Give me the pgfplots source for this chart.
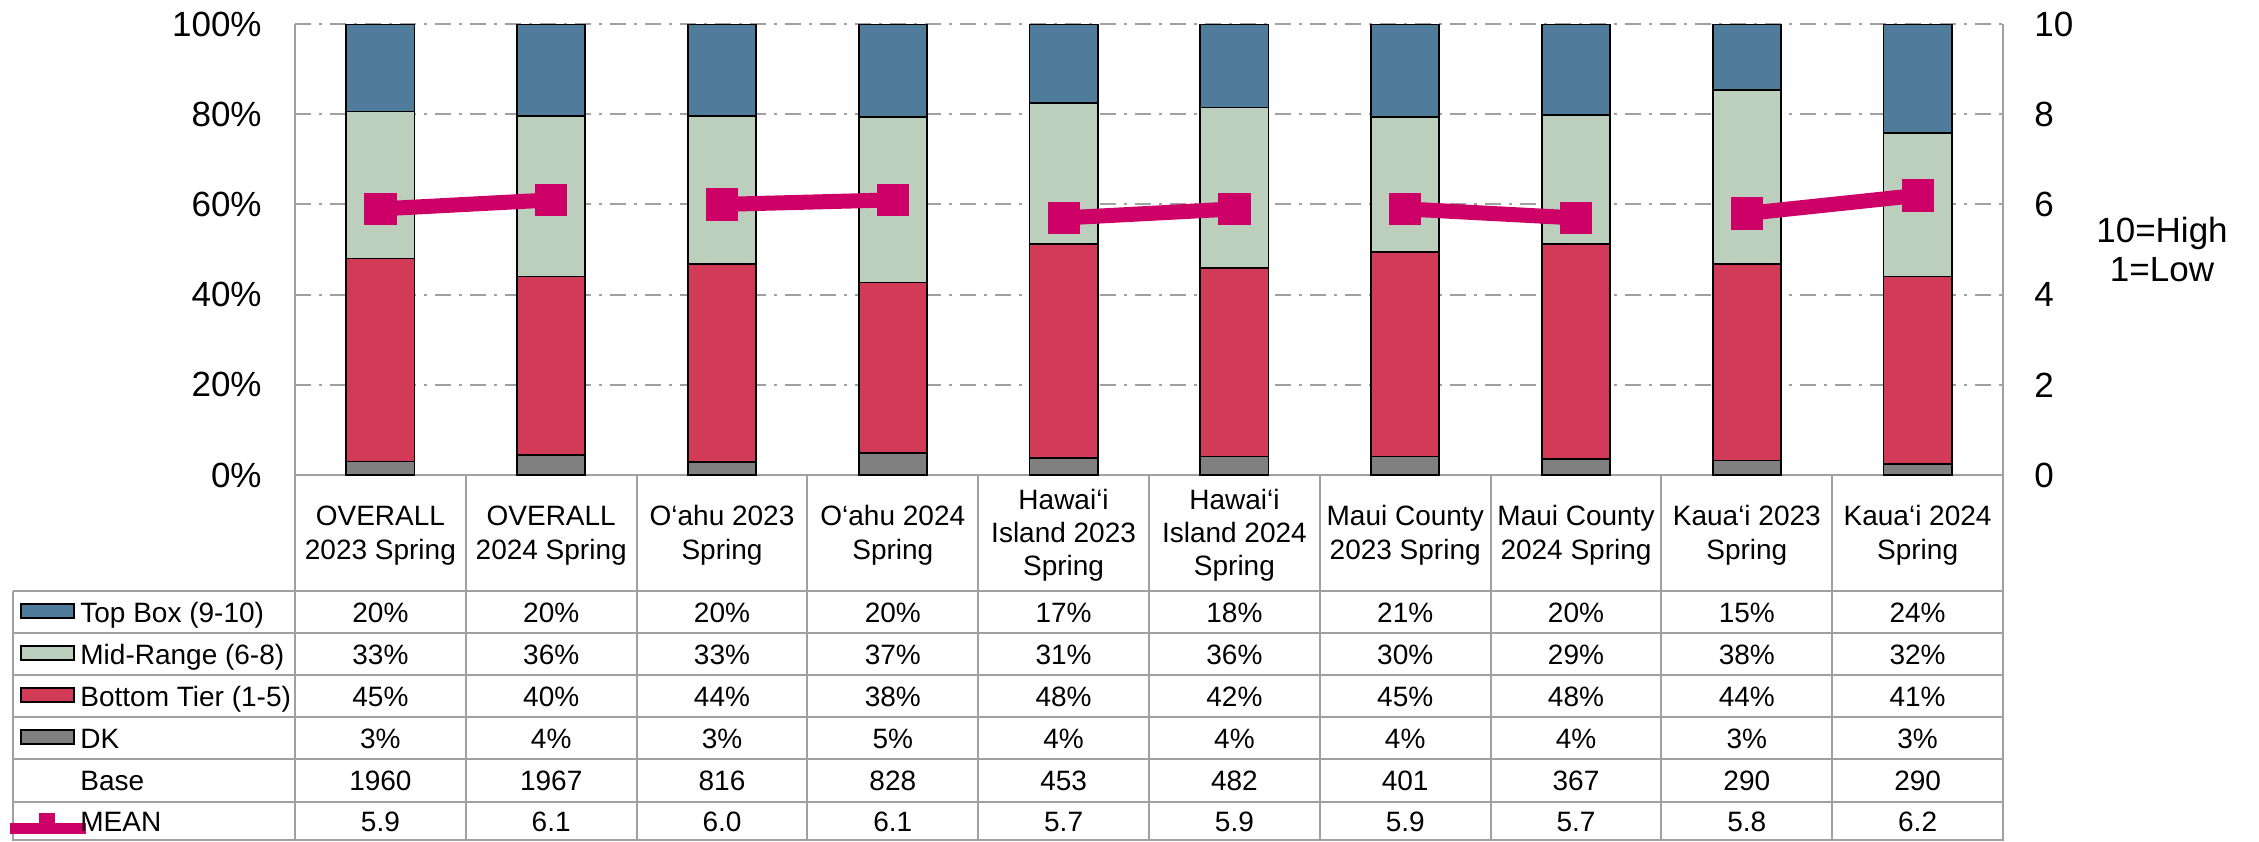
\documentclass[border=0pt]{standalone}
\usepackage{pgfplots}
\pgfplotsset{compat=1.18}
\usepackage{pgfplotstable}
\usepackage{fontspec}
\setmainfont{Liberation Sans}
\definecolor{topbox}{HTML}{4E7C9A}
\definecolor{midr}{HTML}{BCCFBC}
\definecolor{bott}{HTML}{D13B57}
\definecolor{dk}{HTML}{808080}
\definecolor{meanc}{HTML}{CC0066}
\definecolor{gridc}{HTML}{A0A0A0}

\pgfplotstableread{
x dk bot mid top
0 3.0 45.0 32.6 19.4
1 4.4 39.6 35.6 20.4
2 2.9 43.9 32.8 20.4
3 4.8 37.9 36.6 20.7
4 3.8 47.5 31.2 17.5
5 4.1 41.8 35.6 18.5
6 4.1 45.3 29.9 20.7
7 3.5 47.8 28.6 20.1
8 3.2 43.6 38.6 14.6
9 2.5 41.5 31.8 24.2
}\bars

\pgfplotstableread{
x mean
0 5.9
1 6.1
1.5 nan
2 6.0
3 6.1
3.5 nan
4 5.7
5 5.9
5.5 nan
6 5.9
7 5.7
7.5 nan
8 5.8
9 6.2
}\means

\newcommand\trow[2]{%
  \foreach \v [count=\k from 0] in {#2}
    \node[anchor=base, inner sep=0pt, font=\fontsize{14}{17}\selectfont] at ({295+(\k+0.5)*170.8},-#1) {\v};%
}
% header cell line: column, baseline (px), text
\newcommand\hdr[3]{%
  \node[anchor=base, inner sep=0pt, font=\fontsize{14}{17}\selectfont] at ({295+(#1+0.5)*170.8},-#2) {#3};%
}

\begin{document}
\begin{tikzpicture}[x=0.5pt,y=0.5pt]
\path[use as bounding box] (0,0) rectangle (2259,-841);
\begin{axis}[
  at={(147.5pt,-237.5pt)}, anchor=south west,
  scale only axis, width=854pt, height=225.5pt,
  xmin=-0.5, xmax=9.5, ymin=0, ymax=100,
  ybar stacked, bar width=0.4,
  axis x line*=bottom, axis y line*=left,
  axis line style={gridc, line width=1pt},
  xtick=\empty,
  ytick={0,20,...,100}, yticklabels={0\%,20\%,40\%,60\%,80\%,100\%},
  major tick length=0pt,
  yticklabel style={font=\fontsize{17.5}{20}\selectfont, inner sep=0pt, xshift=-16.5pt},
  ymajorgrids, grid style={gridc, line width=1pt, dash pattern=on 8pt off 4pt on 1.5pt off 4pt},
]
\addplot[fill=dk, draw=black, line width=0.9pt] table[x=x,y=dk]{\bars};
\addplot[fill=bott, draw=black, line width=0.9pt] table[x=x,y=bot]{\bars};
\addplot[fill=midr, draw=black, line width=0.9pt] table[x=x,y=mid]{\bars};
\addplot[fill=topbox, draw=black, line width=0.9pt] table[x=x,y=top]{\bars};
\end{axis}
\begin{axis}[
  at={(147.5pt,-237.5pt)}, anchor=south west,
  scale only axis, width=854pt, height=225.5pt,
  xmin=-0.5, xmax=9.5, ymin=0, ymax=10,
  axis y line*=right, axis x line=none,
  axis line style={gridc, line width=1pt},
  ytick={0,2,...,10}, yticklabels={0,2,4,6,8,10},
  major tick length=0pt,
  yticklabel style={font=\fontsize{17.5}{20}\selectfont, inner sep=0pt, xshift=15.5pt},
  unbounded coords=jump, clip=false,
]
\addplot[meanc, line width=7.5pt, mark=square*, mark size=7.8pt, mark options={solid, line width=0.4pt, fill=meanc}] table[x=x,y=mean]{\means};
\end{axis}

% table grid
\foreach \k in {0,...,10}
  \draw[gridc, line width=1pt] ({295+\k*170.8},-475) -- ({295+\k*170.8},-841);
\foreach \y in {591,633,675,717,759,802,840}
  \draw[gridc, line width=1pt] (13,-\y) -- (2003,-\y);
\draw[gridc, line width=1pt] (13,-591) -- (13,-841);

% headers
\hdr{0}{525}{OVERALL}\hdr{0}{559}{2023 Spring}
\hdr{1}{525}{OVERALL}\hdr{1}{559}{2024 Spring}
\hdr{2}{525}{O‘ahu 2023}\hdr{2}{559}{Spring}
\hdr{3}{525}{O‘ahu 2024}\hdr{3}{559}{Spring}
\hdr{4}{509}{Hawai‘i}\hdr{4}{542}{Island 2023}\hdr{4}{575}{Spring}
\hdr{5}{509}{Hawai‘i}\hdr{5}{542}{Island 2024}\hdr{5}{575}{Spring}
\hdr{6}{525}{Maui County}\hdr{6}{559}{2023 Spring}
\hdr{7}{525}{Maui County}\hdr{7}{559}{2024 Spring}
\hdr{8}{525}{Kaua‘i 2023}\hdr{8}{559}{Spring}
\hdr{9}{525}{Kaua‘i 2024}\hdr{9}{559}{Spring}

% rows
\trow{622}{20\%,20\%,20\%,20\%,17\%,18\%,21\%,20\%,15\%,24\%}
\trow{664}{33\%,36\%,33\%,37\%,31\%,36\%,30\%,29\%,38\%,32\%}
\trow{706}{45\%,40\%,44\%,38\%,48\%,42\%,45\%,48\%,44\%,41\%}
\trow{748}{3\%,4\%,3\%,5\%,4\%,4\%,4\%,4\%,3\%,3\%}
\trow{790.5}{1960,1967,816,828,453,482,401,367,290,290}
\trow{831.5}{5.9,6.1,6.0,6.1,5.7,5.9,5.9,5.7,5.8,6.2}

% row labels and legend keys
\begin{scope}[font=\fontsize{14}{17}\selectfont]
\draw[black, line width=1pt, fill=topbox] (21,-604) rectangle (74,-618);
\draw[black, line width=1pt, fill=midr] (21,-646) rectangle (74,-660);
\draw[black, line width=1pt, fill=bott] (21,-688) rectangle (74,-702);
\draw[black, line width=1pt, fill=dk] (21,-730) rectangle (74,-744);
\draw[meanc, line width=5.5pt] (10,-828) -- (86,-828);
\fill[meanc] (39,-813) rectangle (55,-828);
\node[anchor=base west, inner sep=0pt] at (80,-622) {Top Box (9-10)};
\node[anchor=base west, inner sep=0pt] at (80,-664) {Mid-Range (6-8)};
\node[anchor=base west, inner sep=0pt] at (80,-706) {Bottom Tier (1-5)};
\node[anchor=base west, inner sep=0pt] at (80,-748) {DK};
\node[anchor=base west, inner sep=0pt] at (80,-790.5) {Base};
\node[anchor=base west, inner sep=0pt] at (80,-831.5) {MEAN};
\end{scope}

\node[anchor=base, inner sep=0pt, font=\fontsize{17.5}{20}\selectfont] at (2162,-242.5) {10=High};
\node[anchor=base, inner sep=0pt, font=\fontsize{17.5}{20}\selectfont] at (2162,-281.5) {1=Low};
\end{tikzpicture}
\end{document}
